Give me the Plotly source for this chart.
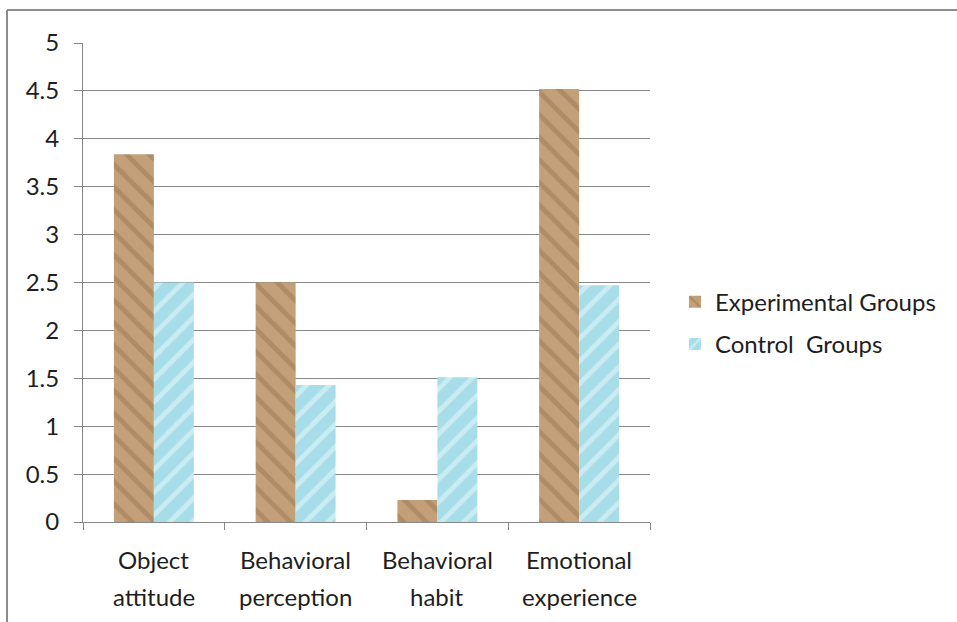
import plotly.graph_objects as go

categories = ["Object attitude", "Behavioral perception", "Behavioral habit", "Emotional experience"]
experimental = [3.84, 2.50, 0.23, 4.52]
control = [2.50, 1.43, 1.51, 2.47]
series_names = ["Experimental Groups", "Control  Groups"]

FONT = "Lato"
GRID = "#878787"
TXT = "#1e1e1e"

fig = go.Figure()
fig.add_trace(go.Bar(
    x=categories, y=experimental, name=series_names[0], legendgroup="a",
    marker=dict(color="#c4a078", line=dict(width=0),
                pattern=dict(shape="\\", fgcolor="#7a5a3a", fgopacity=0.3, size=16, solidity=0.3)),
))
fig.add_trace(go.Bar(
    x=categories, y=control, name=series_names[1], legendgroup="b",
    marker=dict(color="#a6dde9", line=dict(width=0),
                pattern=dict(shape="/", fgcolor="#e6f7fa", fgopacity=0.55, size=16, solidity=0.3)),
))

annotations = []
for c in categories:
    first, second = c.split(" ", 1)
    annotations.append(dict(x=c, xref="x", y=-0.079, yref="paper", text=first, showarrow=False,
                            yanchor="middle", font=dict(family=FONT, size=24, color=TXT)))
    annotations.append(dict(x=c, xref="x", y=-0.1545, yref="paper", text=second, showarrow=False,
                            yanchor="middle", font=dict(family=FONT, size=24, color=TXT)))

shapes = [
    dict(type="line", xref="paper", yref="paper", x0=-0.134, x1=1.6, y0=1.069, y1=1.069,
         line=dict(color="#8c8c8c", width=2)),
    dict(type="line", xref="paper", yref="paper", x0=-0.134, x1=-0.134, y0=1.069, y1=-0.25,
         line=dict(color="#8c8c8c", width=2)),
]

fig.update_layout(
    width=957, height=622,
    margin=dict(l=83, r=307, t=43, b=100),
    paper_bgcolor="white", plot_bgcolor="white",
    barmode="group", bargap=0.436, bargroupgap=0,
    font=dict(family=FONT, size=24, color=TXT),
    showlegend=True,
    legend=dict(x=1.044, y=0.415, xanchor="left", yanchor="middle",
                font=dict(family=FONT, size=24, color=TXT),
                tracegroupgap=8, bgcolor="rgba(0,0,0,0)"),
    xaxis=dict(showticklabels=False, ticks="outside", tickson="boundaries", ticklen=7,
               tickcolor=GRID, showline=True, linecolor=GRID, linewidth=1, showgrid=False),
    yaxis=dict(range=[0, 5], dtick=0.5, tick0=0, showgrid=True, gridcolor=GRID, gridwidth=1,
               showline=True, linecolor=GRID, linewidth=1, ticks="outside", ticklen=8,
               tickcolor=GRID, ticklabelstandoff=10, zeroline=False,
               tickfont=dict(family=FONT, size=24, color=TXT)),
    annotations=annotations,
    shapes=shapes,
)

fig.write_html("out.html")
